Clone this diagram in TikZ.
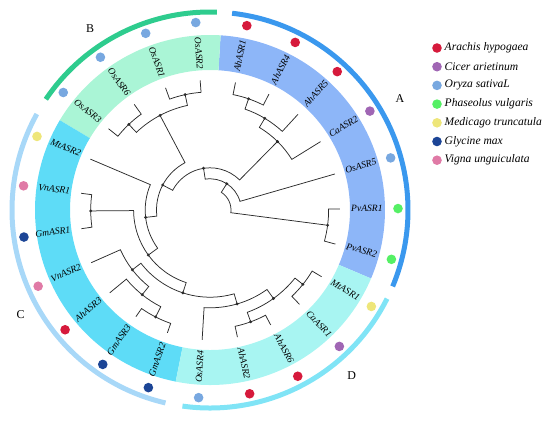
\documentclass[tikz,border=0pt]{standalone}
\usepackage{fontspec}
\setmainfont{Liberation Serif}
\definecolor{bandA}{HTML}{8DB6F8}
\definecolor{bandB}{HTML}{AAF5D6}
\definecolor{bandC}{HTML}{5EDCF7}
\definecolor{bandD}{HTML}{A8F5F2}
\definecolor{arcA}{HTML}{3A98EE}
\definecolor{arcB}{HTML}{2ECC8E}
\definecolor{arcC}{HTML}{A8D8F8}
\definecolor{arcD}{HTML}{80E4F6}
\definecolor{cAh}{HTML}{D61A3C}
\definecolor{cCa}{HTML}{A066B4}
\definecolor{cOs}{HTML}{78A8E0}
\definecolor{cPv}{HTML}{55F065}
\definecolor{cMt}{HTML}{EEE67A}
\definecolor{cGm}{HTML}{1C4596}
\definecolor{cVn}{HTML}{E07AA6}
\definecolor{treeline}{HTML}{2B2B2B}
\tikzset{
  branch/.style={draw=treeline,line width=0.75bp},
  nodedot/.style={fill=treeline},
  lbl/.style={inner sep=0pt,font=\itshape\fontsize{9.6}{10}\selectfont},
  grouplbl/.style={inner sep=0pt,font=\fontsize{12}{13}\selectfont},
  leglbl/.style={inner sep=0pt,anchor=west,font=\itshape\fontsize{11.6}{12}\selectfont},
  grouparc/.style={line width=5bp}
}
\newcommand{\band}[3]{\fill[#1] (#2:140) arc[start angle=#2,end angle=#3,radius=140] -- (#3:175) arc[start angle=#3,end angle=#2,radius=175] -- cycle;}
\newcommand{\clade}[5]{\draw[branch] (#3) -- (#2:#1) arc[start angle=#2,end angle=#4,radius=#1] -- (#5);}
\begin{document}
\begin{tikzpicture}[x=1bp,y=1bp]
\useasboundingbox (0,0) rectangle (550,422);
\begin{scope}[shift={(210,212)}]
% coloured bands
\band{bandA}{-23.04}{86.52}
\band{bandB}{86.52}{149.13}
\band{bandC}{149.13}{258.70}
\band{bandD}{258.70}{336.96}
% group arcs
\draw[grouparc,arcA] (-22.7:198) arc[start angle=-22.7,end angle=83.6,radius=198];
\draw[grouparc,arcB] (88:198) arc[start angle=88,end angle=146,radius=198];
\draw[grouparc,arcC] (151:198) arc[start angle=151,end angle=257,radius=198];
\draw[grouparc,arcD] (262:198) arc[start angle=262,end angle=333.4,radius=198];
% leaves: tip coordinates and species dots
\foreach \n/\a/\c in {0/78.70/cAh,1/63.05/cAh,2/47.40/cAh,3/31.74/cCa,4/16.09/cOs,5/0.44/cPv,6/-15.21/cPv,7/-30.87/cMt,8/-46.52/cCa,9/-62.17/cAh,10/-77.82/cAh,11/266.53/cOs,12/250.87/cGm,13/235.22/cGm,14/219.57/cAh,15/203.92/cVn,16/188.27/cGm,17/172.61/cVn,18/156.96/cMt,19/141.31/cOs,20/125.65/cOs,21/110.00/cOs,22/94.35/cOs}{
  \coordinate (L\n) at (\a:130);
  \fill[\c] (\a:188) circle[radius=4.8];
}
% labels, right half
\foreach \n/\a/\lab in {0/78.70/AhASR1,1/63.05/AhASR4,2/47.40/AhASR5,3/31.74/CaASR2,4/16.09/OsASR5,5/0.44/PvASR1,6/-15.21/PvASR2,7/-30.87/MtASR1,8/-46.52/CaASR1,9/-62.17/AhASR6,10/-77.82/AhASR2}{
  \node[lbl,anchor=mid west,rotate=\a] (t\n) at (\a:141) {\lab};
}
% labels, left half
\foreach \n/\a/\lab in {11/266.53/OsASR4,12/250.87/GmASR2,13/235.22/GmASR3,14/219.57/AhASR3,15/203.92/VnASR2,16/188.27/GmASR1,17/172.61/VnASR1,18/156.96/MtASR2,19/141.31/OsASR3,20/125.65/OsASR6,21/110.00/OsASR1,22/94.35/OsASR2}{
  \node[lbl,anchor=mid east,rotate=\a-180] (t\n) at (\a:141) {\lab};
}
% internal nodes
\coordinate (N2) at (57.45:31.2);
\coordinate (N1) at (98.81:42.2);
\coordinate (N11) at (45.44:96.2);
\coordinate (N12) at (59.14:106.8);
\coordinate (N13) at (70.87:117.7);
\coordinate (N3) at (152.19:53.5);
\coordinate (N19) at (117.83:107);
\coordinate (N18) at (133.48:118);
\coordinate (N20) at (102.17:118);
\coordinate (N4) at (186.55:64.8);
\coordinate (N5) at (216.15:76.4);
\coordinate (N21) at (180.44:119.3);
\coordinate (N6) at (251.85:87.2);
\coordinate (N15) at (217.61:98);
\coordinate (N16) at (231.31:108.5);
\coordinate (N17) at (243.04:120);
\coordinate (N7) at (286.09:97.8);
\coordinate (N8) at (305.65:108.9);
\coordinate (N9) at (321.30:119);
\coordinate (N14) at (290.00:119);
\coordinate (N10) at (-7.39:118.6);
% branches
\clade{117.7}{78.70}{L0}{63.05}{L1}
\clade{106.8}{70.87}{N13}{47.40}{L2}
\clade{96.2}{59.14}{N12}{31.74}{L3}
\clade{42.2}{45.44}{N11}{152.19}{N3}
\clade{31.2}{98.81}{N1}{16.09}{L4}
\clade{21}{57.45}{N2}{-7.39}{N10}
\clade{118.6}{0.44}{L5}{-15.21}{L6}
\clade{53.5}{186.55}{N4}{117.83}{N19}
\clade{107}{133.48}{N18}{102.17}{N20}
\clade{118}{141.31}{L19}{125.65}{L20}
\clade{118}{110.00}{L21}{94.35}{L22}
\clade{64.8}{216.15}{N5}{156.96}{L18}
\clade{76.4}{251.85}{N6}{180.44}{N21}
\clade{119.3}{188.27}{L16}{172.61}{L17}
\clade{87.2}{286.09}{N7}{217.61}{N15}
\clade{98}{231.31}{N16}{203.92}{L15}
\clade{108.5}{243.04}{N17}{219.57}{L14}
\clade{120}{250.87}{L12}{235.22}{L13}
\clade{97.8}{305.65}{N8}{266.53}{L11}
\clade{108.9}{321.30}{N9}{290.00}{N14}
\clade{119}{329.13}{L7}{313.48}{L8}
\clade{119}{297.83}{L9}{282.18}{L10}
\foreach \m in {1,...,21}{\fill[nodedot] (N\m) circle[radius=1.6];}
\end{scope}
% group letters
\node[grouplbl] (gA) at (400,323.7) {A};
\node[grouplbl] (gB) at (90,393.7) {B};
\node[grouplbl] (gC) at (20.7,107.7) {C};
\node[grouplbl] (gD) at (351.7,46) {D};
% legend
\foreach \k/\y/\c/\lab in {1/374/cAh/Arachis hypogaea,2/355.3/cCa/Cicer arietinum,3/336.6/cOs/Oryza sativaL,4/317.9/cPv/Phaseolus vulgaris,5/299.2/cMt/Medicago truncatula,6/280.5/cGm/Glycine max,7/261.8/cVn/Vigna unguiculata}{
  \fill[\c] (437,\y) circle[radius=4.8];
  \node[leglbl] (leg\k) at (444.5,\y) {\lab};
}
\end{tikzpicture}
\end{document}
